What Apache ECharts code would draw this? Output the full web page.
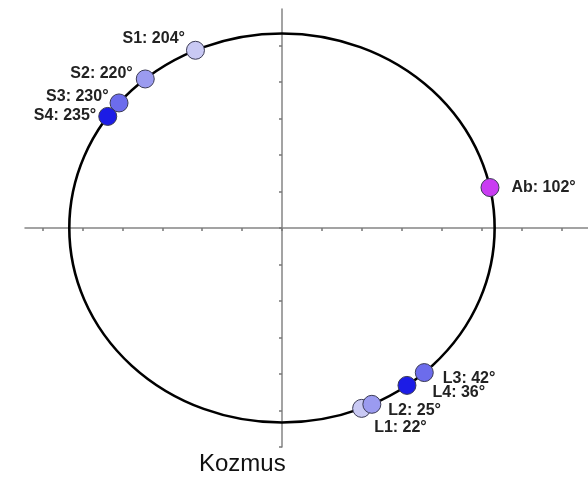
<!DOCTYPE html>
<html>
<head>
<meta charset="utf-8">
<style>
  html, body { margin: 0; padding: 0; background: #fff; }
  #chart { width: 588px; height: 477px; }
</style>
<script src="https://cdn.jsdelivr.net/npm/echarts@6/dist/echarts.min.js"></script>
</head>
<body>
<div id="chart"></div>
<script>
// points on the circle, angle (0° = down, 90° = right)
const names = ["S1", "S2", "S3", "S4", "L1", "L2", "L3", "L4", "Ab"];
const angles = [204, 220, 230, 235, 22, 25, 42, 36, 102];
const radius = 5.33;
const xTicks = [-6, -5, -4, -3, -2, -1, 0, 1, 2, 3, 4, 5, 6, 7];
const yTicks = [-6, -5, -4, -3, -2, -1, 0, 1, 2, 3, 4, 5];

// styling per point
const colors = ["#c9c9f4", "#9b9bf0", "#6c6cec", "#1c1ce6",
                "#c9c9f4", "#9b9bf0", "#6c6cec", "#1c1ce6", "#c93cf2"];
const labelSide = ["left", "left", "left", "left", "right", "right", "right", "right", "right"];
const labelShift = [[4, -12], [2, -5], [4, -6], [3, -1], [-2, 19], [2, 6], [4, 6], [11, 7], [7, 0]];

const chart = echarts.init(document.getElementById("chart"));

const points = names.map(function (n, i) {
  const a = (angles[i] - 90) * Math.PI / 180;
  return {
    name: n,
    value: [radius * Math.cos(a), radius * Math.sin(a), angles[i]],
    itemStyle: { color: colors[i] },
    label: { position: labelSide[i], offset: labelShift[i] },
  };
});

const axisCommon = {
  type: "value",
  axisLine: { onZero: true, lineStyle: { color: "#858585", width: 1.5 } },
  axisLabel: { show: false },
  splitLine: { show: false },
};

chart.setOption({
  animation: false,
  title: {
    text: "Kozmus",
    left: 194,
    top: 447,
    textStyle: { fontFamily: "Liberation Sans, Arial, sans-serif", fontSize: 24, fontWeight: "normal", color: "#111" },
  },
  grid: { left: 25, right: 0, top: 9, bottom: 30 },
  xAxis: Object.assign({}, axisCommon, {
    min: -6.44,
    max: 7.67,
    axisTick: { customValues: xTicks, length: 3, lineStyle: { color: "#777", width: 1.5 } },
  }),
  yAxis: Object.assign({}, axisCommon, {
    min: -6,
    max: 6,
    axisTick: { customValues: yTicks, length: 3, lineStyle: { color: "#777", width: 1.5 } },
  }),
  series: [
    {
      type: "custom",
      data: [[0, 0]],
      z: 2,
      renderItem: function (params, api) {
        const c = api.coord([0, 0]);
        const s = api.size([radius, radius]);
        return {
          type: "circle",
          x: c[0],
          y: c[1],
          scaleY: s[1] / s[0],
          shape: { cx: 0, cy: 0, r: s[0] },
          style: { fill: "none", stroke: "#000", lineWidth: 2.6 },
        };
      },
    },
    {
      type: "scatter",
      z: 3,
      symbolSize: 18,
      data: points,
      itemStyle: { borderColor: "#3a3a55", borderWidth: 1, opacity: 1 },
      label: {
        show: true,
        distance: 5,
        fontFamily: "Liberation Sans, Arial, sans-serif",
        fontSize: 16,
        fontWeight: "bold",
        color: "#222",
        formatter: function (p) {
          return p.name + ": " + p.value[2] + "°";
        },
      },
    },
  ],
});
</script>
</body>
</html>
